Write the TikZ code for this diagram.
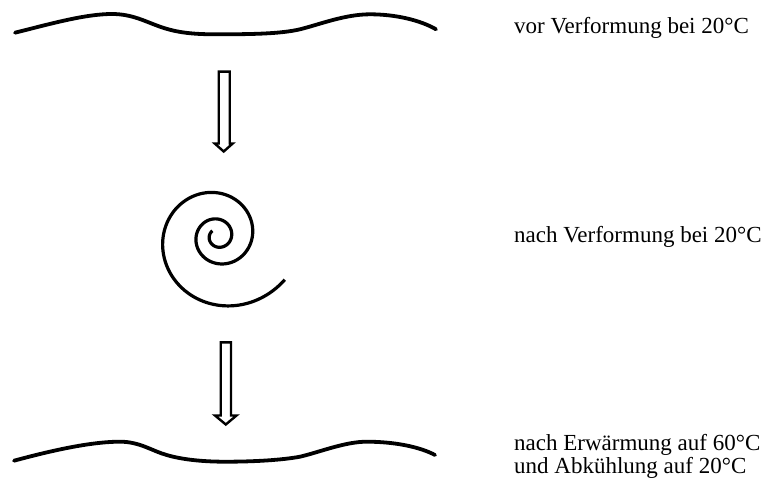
\documentclass[tikz,border=0pt]{standalone}
\usepackage{fontspec}
\setmainfont{Liberation Serif}
\begin{document}
\begin{tikzpicture}[x=1pt,y=-1pt,
  wave/.style={line width=3.8pt,line cap=round,line join=round},
  spiralline/.style={line width=3.2pt,line cap=butt},
  hollowarrow/.style={line width=2.4pt,line join=miter},
  lbl/.style={anchor=base west,inner sep=0pt,font=\fontsize{23}{23}\selectfont}]
\useasboundingbox (0,0) rectangle (765,484);
% top wave
\draw[wave] (15,32.7) .. controls (50,24) and (85,14) .. (112,14)
  .. controls (132,14) and (145,21.4) .. (160,26.7)
  .. controls (175,32) and (190,34.3) .. (215,34.3)
  .. controls (250,34.3) and (280,34) .. (300,29.3)
  .. controls (320,24.3) and (345,14.3) .. (370,14.3)
  .. controls (395,14.3) and (420,20) .. (436,29.3);
% spiral
\draw[spiralline] plot[domain=135:1047,samples=300,variable=\t]
  ({217.9+13.7*exp(0.002571*(\t-360))*cos(\t)},{236.3-13.7*exp(0.002571*(\t-360))*sin(\t)});
% bottom wave
\draw[wave] (14,460.7) .. controls (50,451) and (90,441.7) .. (120,441.7)
  .. controls (140,441.7) and (152,451) .. (166.7,455)
  .. controls (180,459) and (200,461.7) .. (225,461.7)
  .. controls (255,461.7) and (282,460) .. (300,456.7)
  .. controls (320,452) and (345,441.7) .. (366.7,441.7)
  .. controls (395,441.7) and (420,447) .. (435,455);
% arrows
\draw[hollowarrow] (218.7,71.7) -- (229.7,71.7) -- (229.7,143.5) -- (232.7,143.5) -- (223.7,151.5) -- (214.7,143.5) -- (218.7,143.5) -- cycle;
\draw[hollowarrow] (220.7,342.3) -- (231,342.3) -- (231,415.5) -- (236.5,415.5) -- (225.8,424.5) -- (215,415.5) -- (220.7,415.5) -- cycle;
% labels
\node[lbl] (t1) at (514,33.3) {vor Verformung bei 20°C};
\node[lbl] (t2) at (514,242.7) {nach Verformung bei 20°C};
\node[lbl] (t3) at (514,450.7) {nach Erwärmung auf 60°C};
\node[lbl] (t4) at (514,473.3) {und Abkühlung auf 20°C};
\end{tikzpicture}
\end{document}
